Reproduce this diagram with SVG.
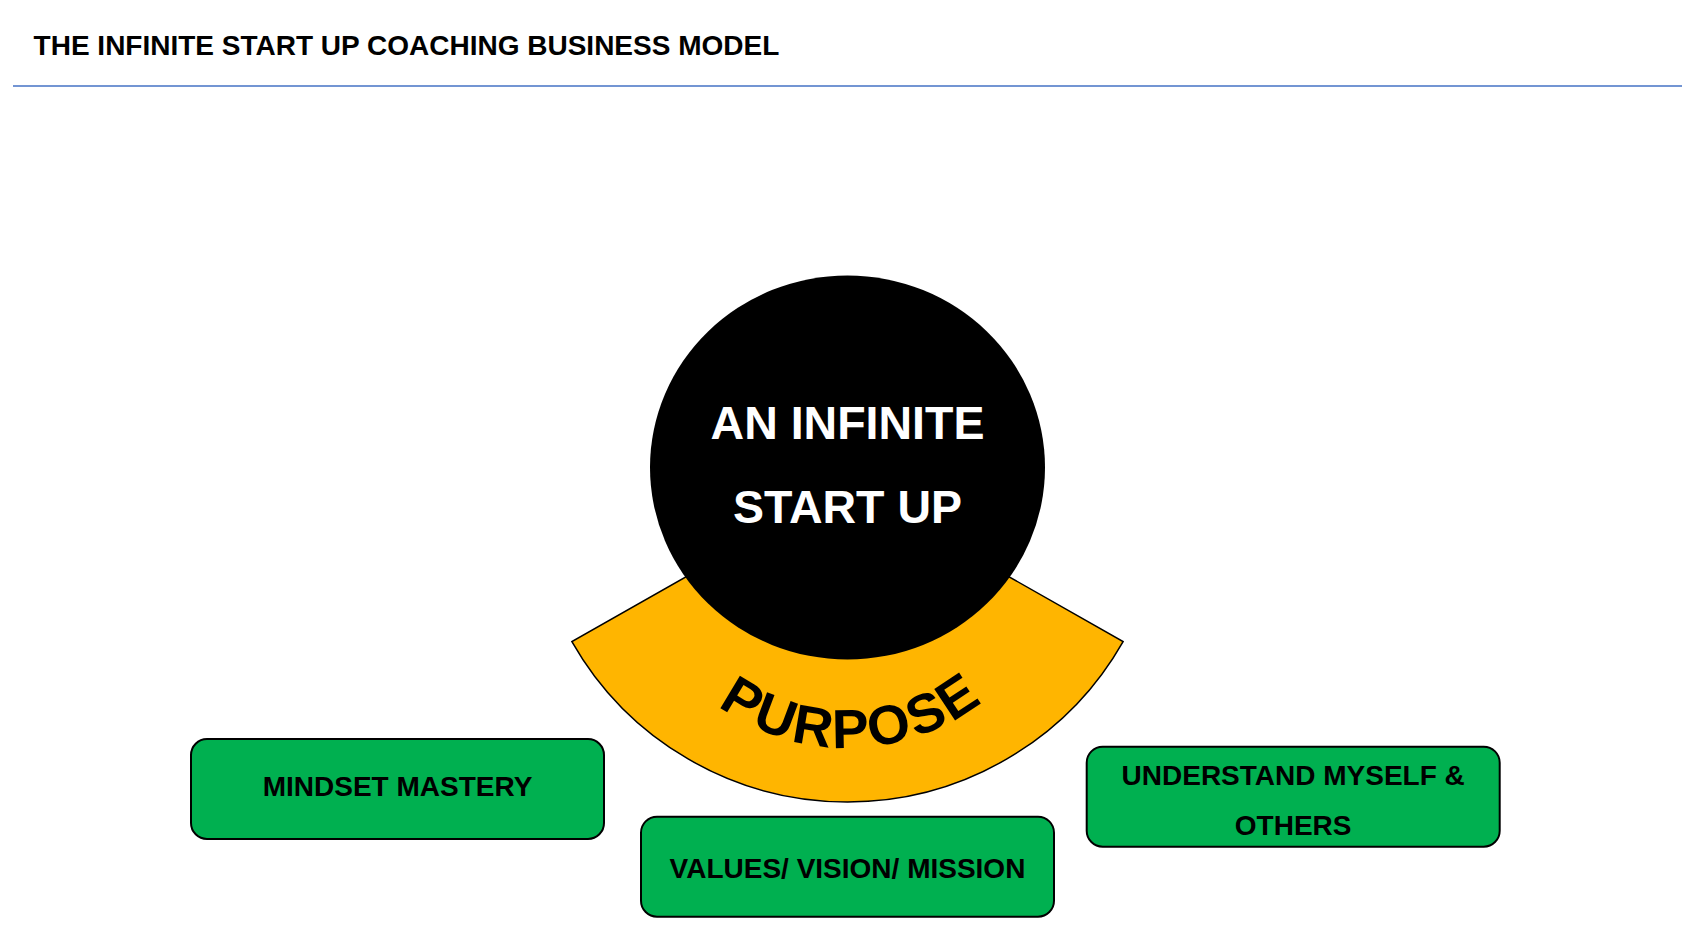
<svg xmlns="http://www.w3.org/2000/svg" width="1701" height="933" viewBox="0 0 1701 933">
<style>
text{font-family:"Liberation Sans",Arial,sans-serif;font-weight:bold}
.box{fill:#00B050;stroke:#000;stroke-width:2}
.lbl{font-size:28px;fill:#000;text-anchor:middle}
.big{font-size:46.5px;fill:#fff;text-anchor:middle}
</style>
<defs>
<path id="purposeArc" d="M 640.8 603.2 A 220 220 0 0 0 1054.2 603.2"/>
</defs>
<rect width="1701" height="933" fill="#fff"/>
<g id="title">
<text x="33.6" y="54.5" font-size="28px" fill="#000">THE INFINITE START UP COACHING BUSINESS MODEL</text>
<line x1="13" y1="86" x2="1682" y2="86" stroke="#4472C4" stroke-width="1.5"/>
</g>
<g id="connectors"></g>
<g id="purpose">
<path d="M 571.9 641.6 A 317 317 0 0 0 1123.1 641.6 L 995.3 569 A 170 170 0 0 1 699.7 569 Z" fill="#FFB500" stroke="#000" stroke-width="1.5"/>
<text font-size="55px" fill="#000" letter-spacing="2.5"><textPath href="#purposeArc" startOffset="273" text-anchor="middle">PURPOSE</textPath></text>
</g>
<g id="core">
<ellipse cx="847.5" cy="467.5" rx="197.5" ry="192" fill="#000"/>
<text class="big" x="847.5" y="439">AN INFINITE</text>
<text class="big" x="847.5" y="523">START UP</text>
</g>
<g id="mindset">
<rect class="box" x="191" y="739" width="413" height="100" rx="16"/>
<text class="lbl" x="397.5" y="796">MINDSET MASTERY</text>
</g>
<g id="values">
<rect class="box" x="641" y="816.7" width="413" height="100" rx="16"/>
<text class="lbl" x="847.5" y="877.7">VALUES/ VISION/ MISSION</text>
</g>
<g id="understand">
<rect class="box" x="1086.7" y="746.7" width="413" height="100" rx="16"/>
<text class="lbl" x="1293.2" y="784.5">UNDERSTAND MYSELF &amp;</text>
<text class="lbl" x="1293.2" y="835">OTHERS</text>
</g>
</svg>
